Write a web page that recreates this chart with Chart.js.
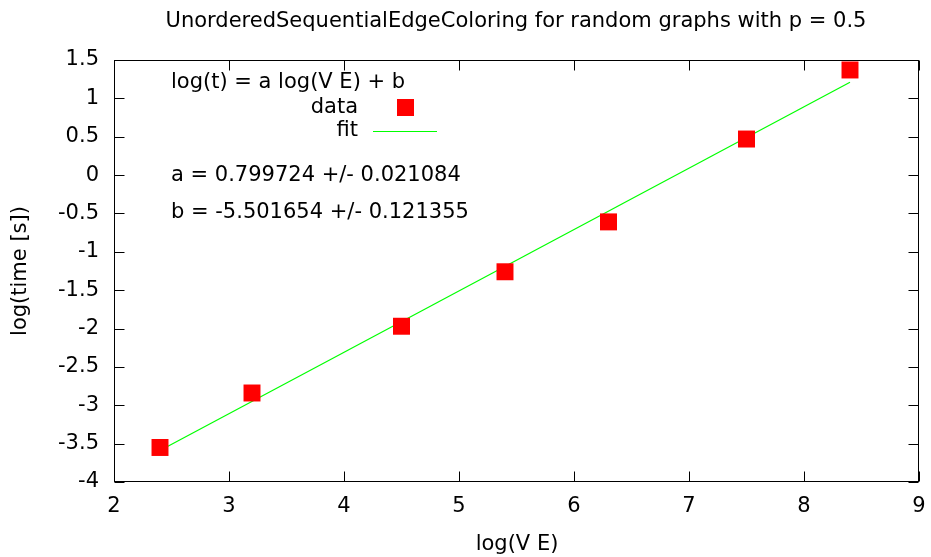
<!DOCTYPE html>
<html>
<head>
<meta charset="utf-8">
<script src="https://cdn.jsdelivr.net/npm/chart.js@4.4.1/dist/chart.umd.min.js"></script>
<style>
html,body{margin:0;padding:0;background:#fff;}
#wrap{width:931px;height:557px;position:relative;}
</style>
</head>
<body>
<div id="wrap"><canvas id="c"></canvas></div>
<script>
// ---- data ----
const dataX = [2.4, 3.2, 4.5, 5.4, 6.3, 7.5, 8.4];
const dataY = [-3.55, -2.84, -1.97, -1.26, -0.61, 0.47, 1.37];
const fitX = [2.4, 8.4];
const fitY = [-3.59, 1.21];
const xTicks = [2, 3, 4, 5, 6, 7, 8, 9];
const yTicks = [1.5, 1, 0.5, 0, -0.5, -1, -1.5, -2, -2.5, -3, -3.5, -4];
const titleText = 'UnorderedSequentialEdgeColoring for random graphs with p = 0.5';
const xTitle = 'log(V E)';
const yTitle = 'log(time [s])';
const keyLines = ['log(t) = a log(V E) + b', 'data', 'fit', 'a = 0.799724 +/- 0.021084', 'b = -5.501654 +/- 0.121355'];

const FONT = '"DejaVu Sans", sans-serif';
const FS = 21;

const decor = {
  id: 'decor',
  afterDraw(chart) {
    const ctx = chart.ctx;
    const a = chart.chartArea;
    const xs = chart.scales.x, ys = chart.scales.y;
    ctx.save();
    // box
    ctx.strokeStyle = '#000';
    ctx.lineWidth = 1;
    const L = Math.round(a.left) + 0.5, R = Math.round(a.right) - 0.5;
    const T = Math.round(a.top) + 0.5, B = Math.round(a.bottom) - 0.5;
    ctx.strokeRect(L, T, R - L, B - T);
    // inward ticks
    ctx.beginPath();
    xTicks.forEach(v => {
      const px = Math.round(xs.getPixelForValue(v)) + 0.5;
      ctx.moveTo(px, B); ctx.lineTo(px, B - 10);
      ctx.moveTo(px, T); ctx.lineTo(px, T + 10);
    });
    yTicks.forEach(v => {
      const py = Math.round(ys.getPixelForValue(v)) + 0.5;
      ctx.moveTo(L, py); ctx.lineTo(L + 10, py);
      ctx.moveTo(R, py); ctx.lineTo(R - 10, py);
    });
    ctx.stroke();
    // title & axis titles
    ctx.fillStyle = '#000';
    ctx.font = FS + 'px ' + FONT;
    ctx.textAlign = 'center';
    ctx.textBaseline = 'middle';
    ctx.fillText(titleText, 516, 22);
    ctx.fillText(xTitle, 517, 545);
    ctx.save();
    ctx.translate(21, 271);
    ctx.rotate(-Math.PI / 2);
    ctx.fillText(yTitle, 0, 0);
    ctx.restore();
    // key
    ctx.textAlign = 'left';
    ctx.fillText(keyLines[0], 171, 83);
    ctx.textAlign = 'right';
    ctx.fillText(keyLines[1], 358, 108);
    ctx.fillText(keyLines[2], 358, 131);
    ctx.textAlign = 'left';
    ctx.fillText(keyLines[3], 171, 176);
    ctx.fillText(keyLines[4], 171, 213);
    // key samples
    ctx.fillStyle = '#ff0000';
    ctx.fillRect(397, 99, 17, 17);
    ctx.strokeStyle = '#00ff00';
    ctx.beginPath();
    ctx.moveTo(373, 131.5); ctx.lineTo(437, 131.5);
    ctx.stroke();
    ctx.restore();
  }
};

new Chart(document.getElementById('c'), {
  type: 'scatter',
  data: {
    datasets: [
      {
        label: 'fit',
        data: fitX.map((x, i) => ({x, y: fitY[i]})),
        showLine: true,
        borderColor: '#00ff00',
        borderWidth: 1.2,
        pointRadius: 0,
        order: 2
      },
      {
        label: 'data',
        data: dataX.map((x, i) => ({x, y: dataY[i]})),
        showLine: false,
        pointStyle: 'rect',
        pointRadius: 12,
        pointHoverRadius: 12,
        backgroundColor: '#ff0000',
        borderColor: '#ff0000',
        borderWidth: 0,
        order: 1
      }
    ]
  },
  options: {
    responsive: true,
    maintainAspectRatio: false,
    animation: false,
    layout: {padding: {top: 60, right: 11, left: 0, bottom: 0}},
    plugins: {legend: {display: false}, tooltip: {enabled: false}, title: {display: false}},
    scales: {
      x: {
        type: 'linear', min: 2, max: 9,
        afterBuildTicks: s => { s.ticks = xTicks.map(v => ({value: v})); },
        ticks: {color: '#000', font: {family: FONT, size: FS}, padding: 12, maxRotation: 0,
                callback: v => String(v)},
        grid: {display: false, drawTicks: false},
        border: {display: false},
        afterFit: s => { s.height = 75; s.paddingLeft = 0; s.paddingRight = 0; }
      },
      y: {
        type: 'linear', min: -4, max: 1.5,
        afterBuildTicks: s => { s.ticks = yTicks.map(v => ({value: v})); },
        ticks: {color: '#000', font: {family: FONT, size: FS}, padding: 15,
                callback: v => String(v)},
        grid: {display: false, drawTicks: false},
        border: {display: false},
        afterFit: s => { s.width = 114; s.paddingTop = 0; s.paddingBottom = 0; }
      }
    }
  },
  plugins: [decor]
});
</script>
</body>
</html>
